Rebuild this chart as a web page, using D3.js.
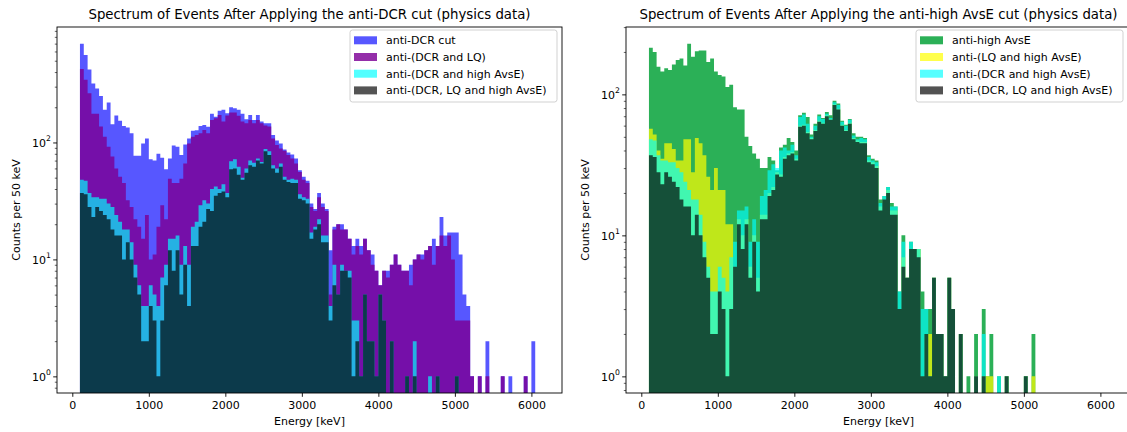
<!DOCTYPE html>
<html><head><meta charset="utf-8">
<script src="https://cdn.jsdelivr.net/npm/d3@7"></script>
<style>
body{margin:0;background:#fff;}
svg text{font-family:"DejaVu Sans",sans-serif;fill:#000;}
</style>
</head><body>
<svg id="chart" width="1127" height="432"></svg>
<script>
// ---- data: 50 keV bins starting at 100 keV ----
const binStart = 100;
const binWidth = 50;

const antiDCR = [
 700,560,420,320,290,250,190,220,143,170,
 153,138,134,120,77,77,98,108,72,70,
 80,74,59,73,94,92,78,96,108,126,
 127,138,141,136,176,166,187,190,178,200,
 196,190,176,158,172,156,172,151,146,146,
 116,104,98,87,82,79,73,58,51,47,
 30,27,37,30,27,12,19,20,20,18,
 15,13,15,13,15,12,11,8,6,8,
 8,9,11,9,8,8,9,10,11,11,
 12,13,15,13,23,16,17,17,17,11,
 5,4,1,0,1,0,2,0,0,0,
 1,0,1,0,0,0,1,0,2,0];

const antiDCRandLQ = [
 424,344,264,176,176,137,112,92,76,60,
 51,45,32,28,22,19,15,24,10,11,
 19,29,22,49,45,45,49,66,98,112,
 116,120,128,120,156,161,172,151,170,180,
 180,169,151,146,156,146,156,146,140,137,
 108,95,89,85,78,73,66,56,48,45,
 28,26,34,28,26,5,18,20,18,18,
 15,11,13,11,15,12,9,8,6,8,
 7,9,11,9,8,8,6,10,11,10,
 12,13,9,13,16,13,16,10,3,3,
 3,3,1,0,1,0,1,0,0,0,
 1,0,0,0,0,0,1,0,0,0];

const antiDCRandAvsE = [
 48,47,37,34,34,33,33,30,28,24,
 21,18,18,14,9,6,4,4,6,5,
 4,7,9,15,15,16,9,13,9,19,
 21,29,32,30,40,42,40,44,37,69,
 72,62,50,60,70,67,73,68,88,84,
 64,60,66,51,48,49,48,36,34,33,
 17,19,22,16,16,4,9,5,9,8,
 8,3,3,1,5,2,2,1,5,3,
 0,2,0,0,0,1,0,2,0,0,
 0,1,0,1,0,0,0,0,1,0,
 0,0,0,0,0,0,0,0,0,0,
 0,0,0,0,0,0,0,0,0,0];

const antiDCRLQAvsE = [
 37,36,28,23,28,26,24,22,18,16,
 16,10,14,10,7,5,2,2,4,3,
 1,3,6,12,8,12,5,9,4,13,
 13,19,21,27,26,35,37,38,34,59,
 60,53,48,55,64,62,70,66,84,78,
 60,55,62,48,46,45,45,33,32,30,
 15,18,20,14,14,3,6,5,8,8,
 7,1,2,1,5,2,2,1,5,3,
 0,2,0,0,0,1,0,1,0,0,
 0,0,0,1,0,0,0,0,1,0,
 0,0,0,0,0,0,0,0,0,0,
 0,0,0,0,0,0,0,0,0,0];

const antiHighAvsE = [
 214,200,157,145,153,149,163,175,180,160,
 229,185,202,205,205,170,180,145,137,134,
 113,117,81,78,78,50,43,38,35,30,
 30,36,34,29,42,44,49,46,40,71,
 74,69,52,62,72,68,75,71,90,86,
 65,61,67,53,50,50,49,37,35,34,
 18,19,22,17,16,4,10,5,9,8,
 8,4,3,3,5,2,2,1,5,3,
 0,2,0,1,0,2,0,3,1,2,
 0,1,0,1,0,0,0,0,1,0,
 2,0,0,0,0,0,0,0,0,0,
 0,0,0,0,0,0,0,0,0,0];

const antiLQandAvsE = [
 57,52,40,35,45,45,41,34,34,48,
 48,28,49,45,37,26,21,30,21,21,
 12,12,6,13,10,13,6,10,5,14,
 14,20,22,28,27,36,38,39,35,60,
 61,54,49,56,65,63,71,67,85,79,
 61,56,63,49,47,46,46,34,33,31,
 16,18,21,15,15,3,7,5,8,8,
 8,1,2,2,5,2,2,1,5,3,
 0,2,0,0,0,1,0,1,1,1,
 0,0,0,1,0,0,0,0,1,0,
 1,0,0,0,0,0,0,0,0,0,
 0,0,0,0,0,0,0,0,0,0];

const xTickValues = [0,1000,2000,3000,4000,5000,6000];
const yTickExponents = [0,1,2];

const leftTitle = "Spectrum of Events After Applying the anti-DCR cut (physics data)";
const rightTitle = "Spectrum of Events After Applying the anti-high AvsE cut (physics data)";
const xLabel = "Energy [keV]";
const yLabel = "Counts per 50 keV";

const leftSeries = [
  {name:"anti-DCR cut", values:antiDCR, color:"#0000ff", alpha:0.66},
  {name:"anti-(DCR and LQ)", values:antiDCRandLQ, color:"#7d0096", alpha:0.82},
  {name:"anti-(DCR and high AvsE)", values:antiDCRandAvsE, color:"#00ffff", alpha:0.68},
  {name:"anti-(DCR, LQ and high AvsE)", values:antiDCRLQAvsE, color:"#000000", alpha:0.67}
];
const rightSeries = [
  {name:"anti-high AvsE", values:antiHighAvsE, color:"#00a035", alpha:0.83},
  {name:"anti-(LQ and high AvsE)", values:antiLQandAvsE, color:"#ffff00", alpha:0.7},
  {name:"anti-(DCR and high AvsE)", values:antiDCRandAvsE, color:"#00ffff", alpha:0.66},
  {name:"anti-(DCR, LQ and high AvsE)", values:antiDCRLQAvsE, color:"#000000", alpha:0.68}
];

const svg = d3.select("#chart");
const plotTop = 27, plotH = 366, plotW = 505;
const fs = 11;

function drawPanel(left, title, series, id, legendShift) {
  const nb = series[0].values.length;
  const lo = binStart, hi = binStart + nb*binWidth;
  const pad = 0.05*(hi-lo);
  const x = d3.scaleLinear().domain([lo-pad, hi+pad]).range([left, left+plotW]);
  const maxC = d3.max(series, s => d3.max(s.values));
  const L = Math.log10(maxC);
  const y = d3.scaleLog().domain([Math.pow(10,-0.05*L), Math.pow(10, L*1.05)]).range([plotTop+plotH, plotTop]);
  const bottom = plotTop+plotH;

  const g = svg.append("g");
  svg.append("clipPath").attr("id","clip"+id).append("rect")
    .attr("x",left).attr("y",plotTop).attr("width",plotW).attr("height",plotH);

  const area = d3.area()
    .x(d => x(d.e))
    .y0(bottom)
    .y1(d => d.c > 0 ? y(d.c) : bottom)
    .curve(d3.curveStepAfter);

  const fills = g.append("g").attr("clip-path","url(#clip"+id+")");
  series.forEach(s => {
    const pts = s.values.map((c,i) => ({e: binStart + i*binWidth, c}));
    pts.push({e: hi, c: s.values[nb-1]});
    fills.append("path").attr("d", area(pts))
      .attr("fill", s.color).attr("fill-opacity", s.alpha);
  });

  // x axis
  const xAxis = d3.axisBottom(x).tickValues(xTickValues).tickSize(3.8).tickPadding(4.5).tickFormat(d3.format("d"));
  const xg = g.append("g").attr("transform",`translate(0,${bottom})`).call(xAxis);
  xg.select(".domain").remove();
  xg.selectAll("line").attr("stroke","#000").attr("stroke-width",0.9);
  xg.selectAll("text").attr("font-size",fs).attr("font-family","DejaVu Sans").attr("fill","#222");

  // y axis major
  const yMajor = yTickExponents.map(k => Math.pow(10,k));
  const yg = g.append("g").attr("transform",`translate(${left},0)`)
    .call(d3.axisLeft(y).tickValues(yMajor).tickSize(3.8).tickFormat(""));
  yg.select(".domain").remove();
  yg.selectAll("line").attr("stroke","#000").attr("stroke-width",0.9);
  // minor ticks
  const [d0,d1] = y.domain();
  const minors = [];
  for (let k = Math.floor(Math.log10(d0)); k <= Math.ceil(Math.log10(d1)); k++) {
    for (let m = 2; m <= 9; m++) { const v = m*Math.pow(10,k); if (v>=d0 && v<=d1) minors.push(v); }
  }
  const ymg = g.append("g").attr("transform",`translate(${left},0)`)
    .call(d3.axisLeft(y).tickValues(minors).tickSize(2.2).tickFormat(""));
  ymg.select(".domain").remove();
  ymg.selectAll("line").attr("stroke","#000").attr("stroke-width",0.6);
  // y tick labels with superscripts
  yTickExponents.forEach(k => {
    const t = g.append("text").attr("x", left-6).attr("y", y(Math.pow(10,k))+4.5)
      .attr("text-anchor","end").attr("font-size",fs).attr("fill","#222");
    t.append("tspan").text("10");
    t.append("tspan").attr("font-size",7.7).attr("dy",-5.5).text(String(k));
  });

  // spines
  g.append("rect").attr("x",left).attr("y",plotTop).attr("width",plotW).attr("height",plotH)
    .attr("fill","none").attr("stroke","#000").attr("stroke-width",0.9);

  // title & labels
  g.append("text").attr("x", left+plotW/2).attr("y", 19).attr("text-anchor","middle")
    .attr("font-size",13.3).attr("fill","#111").text(title);
  g.append("text").attr("x", left+plotW/2).attr("y", 425).attr("text-anchor","middle")
    .attr("font-size",fs).attr("fill","#222").text(xLabel);
  g.append("text").attr("transform",`translate(${left-37},${plotTop+plotH/2}) rotate(-90)`)
    .attr("text-anchor","middle").attr("font-size",fs).attr("fill","#222").text(yLabel);

  // legend
  const lgX = left+plotW-212+legendShift, lgY = 30;
  const lg = g.append("g").attr("transform",`translate(${lgX},${lgY})`);
  lg.append("rect").attr("width",207).attr("height",72).attr("rx",2.5)
    .attr("fill","#fff").attr("fill-opacity",0.8).attr("stroke","#cccccc").attr("stroke-width",0.9);
  series.forEach((s,i) => {
    const ry = 10.3 + i*16.7;
    lg.append("rect").attr("x",4).attr("y",ry-4).attr("width",23).attr("height",8)
      .attr("fill",s.color).attr("fill-opacity",s.alpha);
    lg.append("text").attr("x",36).attr("y",ry+4).attr("font-size",fs).attr("fill","#222").text(s.name);
  });
}

drawPanel(57, leftTitle, leftSeries, "L", 0);
drawPanel(626, rightTitle, rightSeries, "R", -3);
</script>
</body></html>
